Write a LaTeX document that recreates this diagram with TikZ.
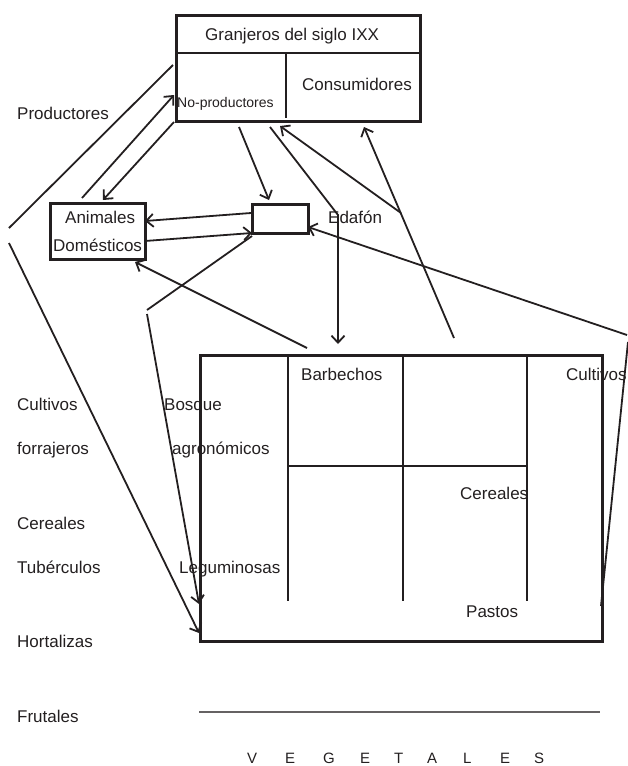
\documentclass[tikz,border=0pt]{standalone}
\usepackage{fontspec}
\setmainfont{Liberation Sans}
\usetikzlibrary{arrows.meta}
\definecolor{ink}{RGB}{35,31,32}
\tikzset{
  lbl/.style={inner sep=0pt, anchor=base west, text=ink, font=\fontsize{17}{20}\selectfont},
  smalllbl/.style={lbl, font=\fontsize{14}{16}\selectfont},
  letter/.style={lbl, font=\fontsize{15}{18}\selectfont},
  boxframe/.style={draw=ink, line width=2.6pt, inner sep=0pt, anchor=north west},
  grid/.style={draw=ink, line width=1.9pt},
  link/.style={draw=ink, line width=1.8pt},
  arr/.style={link, -{Straight Barb[length=7pt,width=13pt,line width=1.8pt]}},
}
\begin{document}
\begin{tikzpicture}[x=1pt,y=-1pt]
\useasboundingbox (0,0) rectangle (628,766);

% ---- farmers block ----
\node[boxframe, minimum width=244pt, minimum height=106pt] (farm) at (175,14) {};
\draw[grid, line width=2.4pt] (175,53) -- (419,53);
\draw[grid, line width=2.4pt] (286,53) -- (286,118);
\node[lbl] (title) at (205,40) {Granjeros del siglo IXX};
\node[smalllbl] (nonprod) at (177,107) {No-productores};
\node[lbl] (consum) at (302,90) {Consumidores};

\node[lbl] (prod) at (17,119) {Productores};

% ---- livestock and soil ----
\node[boxframe, minimum width=95pt, minimum height=56pt] (animals) at (49,202) {};
\node[lbl] (animA) at (65,223) {Animales};
\node[lbl] (animB) at (53,251) {Domésticos};
\node[boxframe, minimum width=56pt, minimum height=29pt] (soil) at (251,203) {};
\node[lbl] (edafon) at (328,223) {Edafón};

% ---- land use block ----
\node[boxframe, minimum width=402pt, minimum height=286pt] (land) at (199,354) {};
\draw[grid] (288,354) -- (288,601);
\draw[grid] (403,354) -- (403,601);
\draw[grid] (527,354) -- (527,601);
\draw[grid] (288,466) -- (527,466);
\node[lbl] (barb) at (301,380) {Barbechos};
\node[lbl] (cultR) at (566,380) {Cultivos};
\node[lbl] (bosq) at (164,410) {Bosque};
\node[lbl] (agro) at (172,454) {agronómicos};
\node[lbl] (cerIn) at (460,499) {Cereales};
\node[lbl] (legu) at (179,573) {Leguminosas};
\node[lbl] (past) at (466,617) {Pastos};

% ---- crop list on the left ----
\node[lbl] (cultL) at (17,410) {Cultivos};
\node[lbl] (forr) at (17,454) {forrajeros};
\node[lbl] (cerL) at (17,529) {Cereales};
\node[lbl] (tube) at (17,573) {Tubérculos};
\node[lbl] (hort) at (17,647) {Hortalizas};
\node[lbl] (frut) at (17,722) {Frutales};

% ---- baseline and caption ----
\coordinate (baseL) at (199,712);
\coordinate (baseR) at (600,712);
\draw[draw=ink!70, line width=1.4pt] (baseL) -- (baseR);
\foreach \ch/\xx [count=\i] in {V/247,E/285,G/323,E/360,T/394,A/427,L/463,E/500,S/534}
  \node[letter] (veg\i) at (\xx,763) {\ch};

% ---- connector end points ----
\coordinate (a1) at (173,65);   \coordinate (a2) at (9,228);
\coordinate (b1) at (82,198);   \coordinate (b2) at (174,95);
\coordinate (c1) at (174,122);  \coordinate (c2) at (103,200);
\coordinate (d1) at (239,127);  \coordinate (d2) at (269,200);
\coordinate (e1) at (270,127);  \coordinate (e2) at (338,215);  \coordinate (e3) at (338,344);
\coordinate (f1) at (454,338);  \coordinate (f2) at (364,127);
\coordinate (g1) at (401,213);  \coordinate (g2) at (280,126);
\coordinate (h1) at (627,335);  \coordinate (h2) at (308,227);
\coordinate (i1) at (251,213);  \coordinate (i2) at (145,221);
\coordinate (j1) at (145,241);  \coordinate (j2) at (252,233);
\coordinate (k1) at (147,310);  \coordinate (k2) at (252,236);
\coordinate (l1) at (307,348);  \coordinate (l2) at (135,262);
\coordinate (m1) at (9,243);    \coordinate (m2) at (199,633);
\coordinate (n1) at (147,314);  \coordinate (n2) at (199,604);
\coordinate (o1) at (628,342);  \coordinate (o2) at (601,606);

% ---- connectors ----
\draw[link] (a1) -- (a2);
\draw[arr] (b1) -- (b2);
\draw[arr] (c1) -- (c2);
\draw[arr] (d1) -- (d2);
\draw[arr] (e1) -- (e2) -- (e3);
\draw[arr] (f1) -- (f2);
\draw[arr] (g1) -- (g2);
\draw[arr] (h1) -- (h2);
\draw[arr] (i1) -- (i2);
\draw[arr] (j1) -- (j2);
\draw[link] (k1) -- (k2);
\draw[arr] (l1) -- (l2);
\draw[arr] (m1) -- (m2);
\draw[arr] (n1) -- (n2);
\draw[link] (o1) -- (o2);
\end{tikzpicture}
\end{document}
